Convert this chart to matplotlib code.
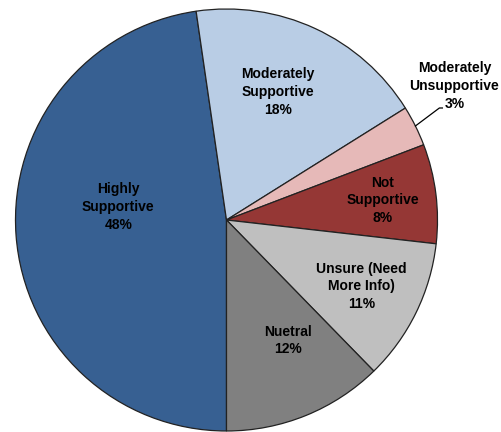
import numpy as np
import matplotlib
matplotlib.use("Agg")
import matplotlib.pyplot as plt

categories = ["Highly\nSupportive", "Moderately\nSupportive", "Moderately\nUnsupportive",
              "Not\nSupportive", "Unsure (Need\nMore Info)", "Nuetral"]
values = [47.7, 18.4, 3.1, 7.6, 10.9, 12.3]
colors = ["#376092", "#B9CDE5", "#E6B9B8", "#953735", "#BFBFBF", "#808080"]

W, H = 502, 432
fig = plt.figure(figsize=(W / 100, H / 100), dpi=100)
ax = fig.add_axes([0, 0, 1, 1])

cx, cy, R = 226.5, H - 220.0, 211.0
wedges, _ = ax.pie(values, colors=colors, startangle=-90, counterclock=False,
                   center=(cx, cy), radius=R, frame=True,
                   wedgeprops=dict(edgecolor="#222222", linewidth=0.9))
ax.set_xlim(0, W)
ax.set_ylim(0, H)
ax.axis("off")

# label placement: (radial fraction, angular offset in degrees)
placement = [(0.517, -11), (0.654, 3), None, (0.746, 0), (0.714, 0), (0.641, 5)]
font = dict(family="Liberation Sans", fontsize=10, fontweight="bold",
            ha="center", va="center", linespacing=1.33)
for w, lab, v, p in zip(wedges, categories, values, placement):
    mid = (w.theta1 + w.theta2) / 2
    txt = f"{lab}\n{round(v):d}%"
    if p is None:
        th = np.deg2rad(mid)
        x0, y0 = cx + R * np.cos(th), cy + R * np.sin(th)
        x1, y1 = x0 + 24, y0 + 18
        ax.plot([x0, x1, x1 + 3], [y0, y1, y1], color="black", lw=0.9)
        ax.text(x1 + 15, y1 + 22, txt, **font)
    else:
        f, d = p
        th = np.deg2rad(mid + d)
        ax.text(cx + f * R * np.cos(th), cy + f * R * np.sin(th), txt, **font)

fig.savefig("out.png", dpi=100)
